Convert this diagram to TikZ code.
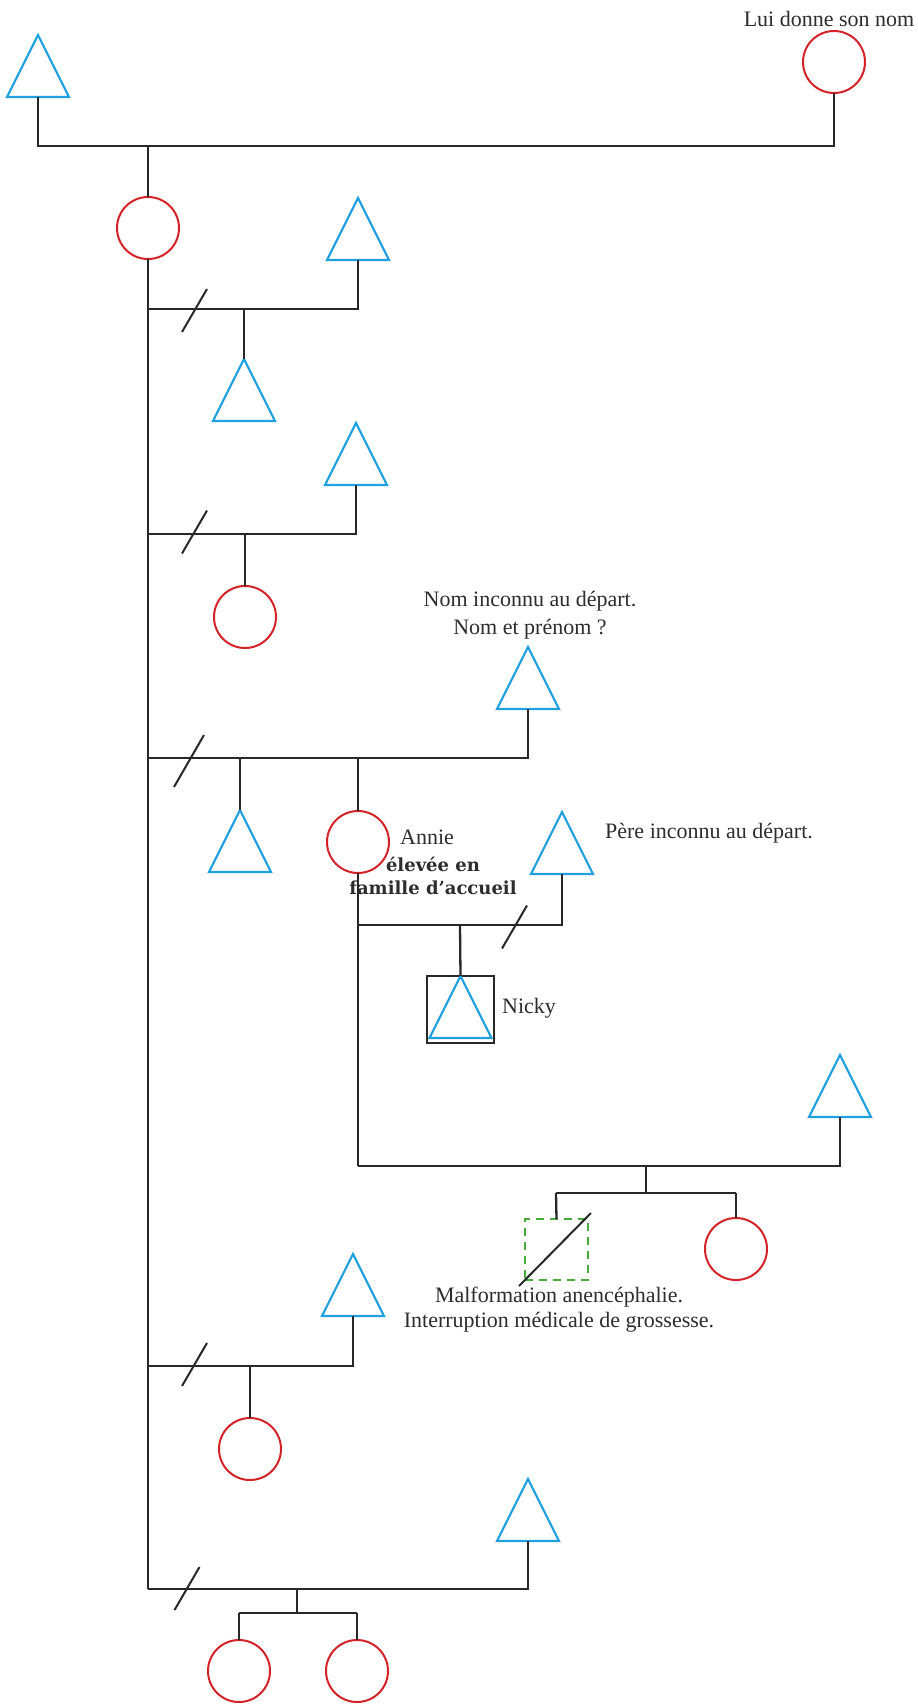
\documentclass[tikz,border=0pt]{standalone}
\usepackage{fontspec}
\setmainfont{Liberation Serif}
\newfontfamily\boldserif{DejaVu Serif}
\usetikzlibrary{shapes.geometric}
\definecolor{triblue}{RGB}{30,160,225}
\definecolor{circred}{RGB}{212,35,40}
\definecolor{dashgreen}{RGB}{70,170,60}
\definecolor{linegray}{RGB}{40,40,40}
\definecolor{txtgray}{RGB}{45,45,45}
\tikzset{
  male/.style={isosceles triangle, isosceles triangle stretches, shape border rotate=90,
    minimum width=62pt, minimum height=62pt, inner sep=0pt, outer sep=0pt,
    draw=triblue, line width=2.2pt, anchor=north},
  female/.style={circle, minimum size=62pt, inner sep=0pt, outer sep=0pt,
    draw=circred, line width=2pt},
  rel/.style={draw=linegray, line width=2.3pt},
  lbl/.style={font=\fontsize{22}{28}\selectfont, text=txtgray, inner sep=0pt, align=center},
  boldlbl/.style={font=\boldserif\bfseries\fontsize{18}{24}\selectfont, text=txtgray, inner sep=0pt},
  brk/.pic={\draw[linegray, line width=2pt] (-12.5,21.5) -- (12.5,-21.5);},
  brkwide/.pic={\draw[linegray, line width=2pt] (-15,26) -- (15,-26);}
}
\begin{document}
\begin{tikzpicture}[x=1pt,y=-1pt]
\useasboundingbox[fill=white] (0,0) rectangle (918,1706);

% generation I
\node[male] (gp) at (38,35) {};
\node[female] (gm) at (834,62) {};
\node[lbl] (lgm) at (829,19) {Lui donne son nom};
\coordinate (m0) at (148,146);
\node[female] (f0) at (148,228) {};
\draw[rel] (gp.south) |- (m0) -| (gm.south);
\draw[rel] (m0) -- (f0.north);

% main descent line
\coordinate (u1) at (148,309);
\coordinate (u2) at (148,534);
\coordinate (u3) at (148,758);
\coordinate (u4) at (148,1366);
\coordinate (u5) at (148,1589);
\draw[rel] (f0.south) -- (u5);

% union 1
\node[male] (h1) at (358,198) {};
\node[male] (c1) at (244,359) {};
\coordinate (d1) at (244,309);
\draw[rel] (u1) -| (h1.south);
\draw[rel] (d1) -- (c1.north);
\pic at (194.5,310.5) {brk};

% union 2
\node[male] (h2) at (356,423) {};
\node[female] (c2) at (245,617) {};
\coordinate (d2) at (245,534);
\draw[rel] (u2) -| (h2.south);
\draw[rel] (d2) -- (c2.north);
\pic at (194.5,532) {brk};

% union 3
\node[male] (h3) at (528,647) {};
\node[lbl] (lh3) at (530,615) {Nom inconnu au départ.\\Nom et prénom ?};
\node[male] (c3a) at (240,810) {};
\node[female] (annie) at (358,842) {};
\coordinate (d3a) at (240,758);
\coordinate (d3b) at (358,758);
\draw[rel] (u3) -| (h3.south);
\draw[rel] (d3a) -- (c3a.north);
\draw[rel] (d3b) -- (annie.north);
\pic at (189,761) {brkwide};
\node[lbl, anchor=west] (lannie) at (400,837) {Annie};
\node[boldlbl] (lfoster1) at (433,864) {élevée en};
\node[boldlbl] (lfoster2) at (433,888) {famille d’accueil};

% Annie's first union
\node[male] (fn) at (562,812) {};
\node[lbl] (lfn) at (709,833) {Père inconnu au départ.};
\coordinate (a1) at (358,925);
\coordinate (a2) at (358,1166);
\coordinate (dn) at (460,925);
\draw[rel] (annie.south) -- (a2);
\draw[rel] (a1) -| (fn.south);
\node[draw=linegray, line width=2.2pt, minimum width=67pt, minimum height=67pt, inner sep=0pt, outer sep=0pt] (nbox) at (460.5,1009.5) {};
\node[male] (nicky) at (460.5,976) {};
\draw[rel] (dn) -- (nbox.north);
\pic at (514.5,927) {brk};
\node[lbl, anchor=west] (lnicky) at (502,1008) {Nicky};

% Annie's second union
\node[male] (h5) at (840,1055) {};
\coordinate (s5) at (646,1166);
\coordinate (s5b) at (646,1193);
\coordinate (s5l) at (556,1193);
\coordinate (s5r) at (736,1193);
\draw[rel] (a2) -| (h5.south);
\draw[rel] (s5) -- (s5b);
\draw[rel] (s5l) -- (s5r);
\node[draw=dashgreen, line width=2pt, dash pattern=on 8pt off 6pt, minimum width=63pt, minimum height=61pt, inner sep=0pt, outer sep=0pt] (tmp) at (556.5,1249.5) {};
\node[female] (c5b) at (736,1249) {};
\draw[rel] (s5l) -- (tmp.north);
\draw[rel] (s5r) -- (c5b.north);
\coordinate (tmpa) at (519,1286);
\coordinate (tmpb) at (591,1213);
\draw[linegray, line width=2pt] (tmpa) -- (tmpb);
\node[lbl, font=\fontsize{22}{25}\selectfont] (ltmp) at (559,1309.5) {Malformation anencéphalie.\\Interruption médicale de grossesse.};

% union 4
\node[male] (h4) at (353,1254) {};
\node[female] (c4) at (250,1449) {};
\coordinate (d4) at (250,1366);
\draw[rel] (u4) -| (h4.south);
\draw[rel] (d4) -- (c4.north);
\pic at (194.5,1364.5) {brk};

% union 5
\node[male] (h6) at (528,1479) {};
\node[female] (c6a) at (239,1671) {};
\node[female] (c6b) at (357,1671) {};
\coordinate (d6) at (297,1589);
\coordinate (d6b) at (297,1613);
\coordinate (d6l) at (239,1613);
\coordinate (d6r) at (357,1613);
\draw[rel] (u5) -| (h6.south);
\draw[rel] (d6) -- (d6b);
\draw[rel] (d6l) -- (d6r);
\draw[rel] (d6l) -- (c6a.north);
\draw[rel] (d6r) -- (c6b.north);
\pic at (187,1588.5) {brk};
\end{tikzpicture}
\end{document}
